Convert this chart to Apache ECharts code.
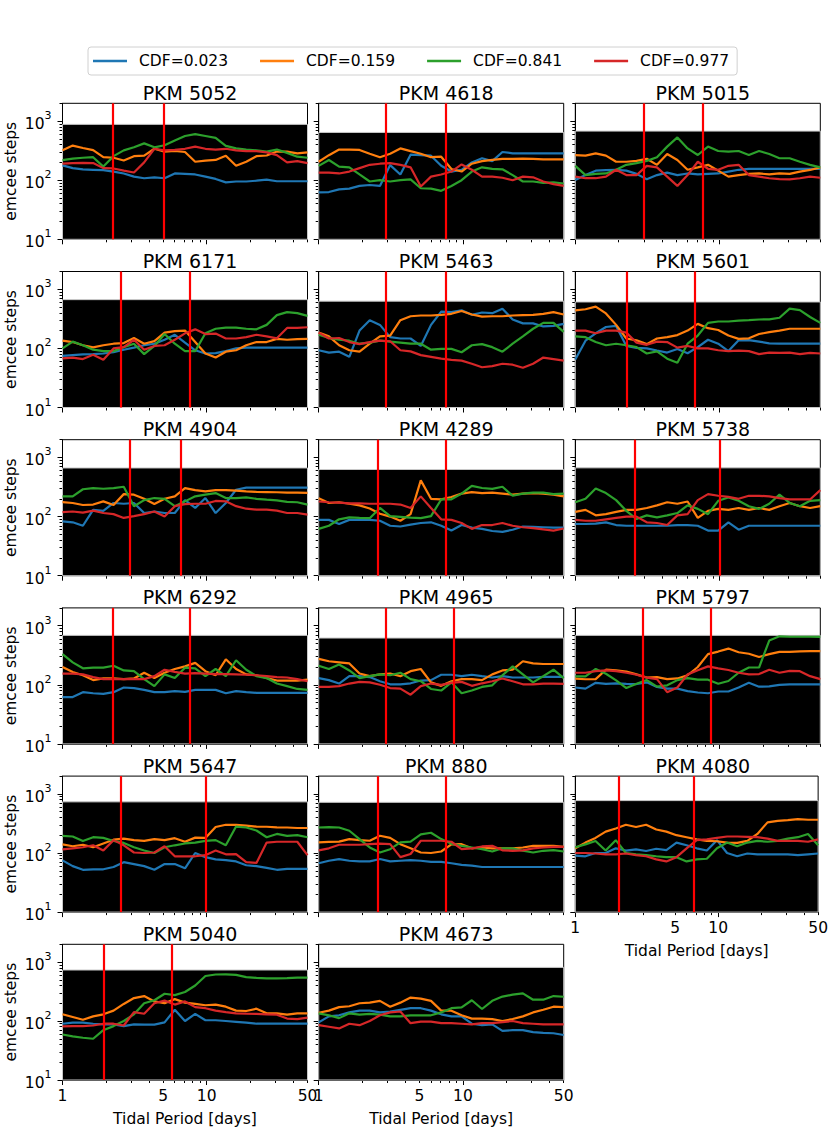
<!DOCTYPE html>
<html>
<head>
<meta charset="utf-8">
<script src="https://cdn.jsdelivr.net/npm/echarts@6/dist/echarts.min.js"></script>
<style>
  html, body { margin: 0; background: #fff; }
  #chart { width: 831px; height: 1128px; }
</style>
</head>
<body>
<div id="chart"></div>
<script>
// panel names, in reading order
const names = ['PKM 5052','PKM 4618','PKM 5015','PKM 6171','PKM 5463','PKM 5601','PKM 4904','PKM 4289','PKM 5738',
  'PKM 6292','PKM 4965','PKM 5797','PKM 5647','PKM 880','PKM 4080','PKM 5040','PKM 4673'];

// tidal periods [days] the steps were sampled at
const periods = [1.000,1.177,1.385,1.631,1.919,2.259,2.659,3.130,3.684,4.336,5.104,6.008,7.071,
  8.323,9.796,11.53,13.57,15.98,18.80,22.13,26.05,30.66,36.09,42.48,50.00];

// emcee steps, one row per panel
const cdf023 = [
  [178,160,152,150,148,140,130,115,108,112,108,130,128,125,115,105,92,95,95,98,102,96,96,96,96],
  [62,63,70,72,80,83,80,180,125,270,265,260,175,140,150,200,235,210,300,285,285,285,285,285,285],
  [101,122,145,148,150,145,128,104,122,134,122,130,125,128,130,140,150,156,156,156,156,156,156,156,156],
  [75,77,79,80,82,86,95,103,113,120,140,170,125,93,82,83,90,100,103,103,103,103,103,103,103],
  [93,85,88,72,200,300,250,155,147,147,110,250,420,410,440,370,405,395,470,308,265,265,235,240,260],
  [65,135,180,230,240,110,102,100,92,85,98,83,105,140,120,90,137,138,130,122,120,120,120,120,120],
  [83,80,70,130,125,170,165,170,115,122,115,115,190,140,206,115,170,285,310,310,310,310,310,310,310],
  [88,88,75,88,88,88,85,70,68,73,78,80,70,58,72,65,62,57,55,60,68,67,66,65,65],
  [75,75,76,80,72,70,70,70,70,70,72,72,70,58,58,80,60,70,70,70,70,70,70,70,70],
  [62,62,75,72,70,75,90,88,82,75,75,78,76,82,82,82,72,78,75,73,73,73,73,73,73],
  [130,120,105,140,140,135,115,102,102,106,118,120,148,148,140,148,140,133,140,133,133,133,136,136,136],
  [90,86,108,104,106,104,103,110,92,86,86,78,74,72,77,77,90,108,93,94,100,102,102,102,102],
  [75,60,52,53,53,58,70,65,60,52,65,65,55,100,85,78,76,72,62,60,56,52,54,54,54],
  [67,74,79,74,72,72,79,72,74,76,74,71,71,67,63,61,58,58,58,58,58,58,58,58,58],
  [90,88,100,100,120,110,115,108,118,112,150,135,120,110,165,100,88,98,95,95,95,95,92,95,98],
  [90,94,94,90,88,88,82,88,87,87,95,155,100,132,103,103,100,97,94,90,90,90,90,90,90],
  [95,120,125,140,150,150,140,145,155,165,165,150,130,120,120,90,85,88,68,70,70,65,63,62,58]
];
const cdf159 = [
  [322,385,350,322,245,240,215,255,260,340,305,312,300,205,215,220,260,175,205,255,262,305,305,285,295],
  [205,265,330,330,325,280,245,280,345,310,280,245,250,155,140,190,210,220,230,230,232,230,225,225,225],
  [265,260,285,260,205,205,212,230,182,278,220,150,165,182,145,115,122,128,130,125,130,128,140,149,165],
  [135,128,113,104,113,120,123,150,120,133,185,196,200,128,82,70,88,93,113,128,128,145,140,143,145],
  [185,160,113,93,88,120,160,165,300,350,360,360,370,385,430,375,345,350,350,360,365,370,385,410,375],
  [440,460,510,390,250,147,137,118,147,155,168,200,260,220,205,165,145,148,175,188,200,215,215,215,215],
  [176,170,157,160,181,157,240,235,200,163,200,220,304,280,267,280,280,275,267,262,260,258,255,255,252],
  [205,170,175,165,155,137,112,100,85,110,410,200,196,215,245,260,250,255,245,235,245,250,245,235,220],
  [120,130,105,110,120,130,130,140,155,175,165,180,95,125,135,130,140,130,140,130,150,170,150,140,150],
  [200,165,145,120,128,128,125,128,160,130,160,185,205,235,170,145,270,185,150,145,130,118,118,118,122],
  [275,250,240,230,155,140,150,155,140,170,185,110,96,115,125,125,120,150,175,180,250,230,225,225,225],
  [127,124,125,180,176,168,150,133,135,125,128,145,200,330,365,410,355,335,295,330,360,360,368,372,372],
  [140,130,138,125,145,168,175,165,160,172,165,178,155,182,180,275,300,300,290,280,278,272,270,265,265],
  [151,154,156,172,165,161,196,180,141,120,102,100,106,140,141,120,124,120,120,120,124,132,132,132,127],
  [120,150,180,230,260,300,275,300,250,230,200,185,170,160,158,150,148,160,210,330,350,360,375,365,365],
  [130,117,105,120,130,150,195,245,265,215,200,235,205,195,185,190,175,150,148,162,135,135,128,135,135],
  [138,150,172,178,200,205,220,175,205,250,240,220,150,150,125,110,110,108,100,108,120,140,155,175,172]
];
const cdf841 = [
  [218,232,240,245,170,255,320,360,420,360,390,470,560,600,560,520,380,345,330,320,305,330,290,250,240],
  [175,220,170,165,125,95,100,95,100,103,73,72,66,80,100,140,165,155,153,122,95,95,90,92,88],
  [175,122,128,130,150,182,195,212,245,370,530,345,267,370,312,305,312,267,312,278,235,235,205,182,165],
  [100,130,113,95,90,90,105,120,80,110,175,120,90,90,180,215,225,225,215,210,250,365,410,395,355],
  [170,150,140,135,120,125,135,130,125,120,120,95,98,98,86,113,118,105,88,120,160,215,270,270,190],
  [160,155,128,113,120,113,105,82,89,67,57,120,165,270,285,285,295,300,308,310,330,470,445,340,270],
  [220,220,290,304,296,304,320,150,190,206,200,150,181,220,235,250,206,206,212,200,193,188,178,175,159],
  [62,70,90,97,95,94,140,102,99,96,94,102,195,196,245,330,305,295,320,225,245,255,255,240,245],
  [175,200,300,250,190,125,91,105,97,105,115,155,135,110,185,210,185,150,135,165,235,170,150,185,190],
  [330,240,190,195,195,210,175,170,125,95,150,130,195,190,140,185,140,260,180,140,130,105,95,85,82],
  [210,185,220,175,130,140,150,145,160,125,115,85,80,110,72,80,92,98,145,205,150,110,140,180,130],
  [139,139,185,154,119,88,104,120,93,98,120,130,122,122,104,116,160,196,196,560,660,650,650,650,645],
  [195,190,160,185,180,160,148,125,110,100,125,135,145,150,160,165,135,280,270,240,185,210,195,200,185],
  [270,275,270,238,172,124,102,116,151,156,206,220,172,144,132,124,116,106,120,120,109,102,109,112,106],
  [125,140,160,110,165,100,95,92,88,85,85,72,78,80,120,150,130,150,160,155,160,175,185,210,135],
  [59,55,52,50,70,82,100,130,200,225,290,275,310,400,580,615,620,605,555,540,530,530,535,545,545],
  [135,125,112,135,128,132,128,120,120,125,125,125,140,165,170,225,160,220,260,280,295,230,230,265,258]
];
const cdf977 = [
  [190,195,197,195,160,158,145,135,200,340,320,325,340,370,340,330,340,320,310,310,295,265,200,210,195],
  [134,134,130,140,160,182,190,195,182,165,78,115,125,140,185,150,115,115,110,100,115,112,95,86,80],
  [115,108,108,115,150,122,122,175,165,115,80,122,205,156,150,175,182,122,115,108,104,103,108,115,110],
  [68,70,66,78,64,100,105,140,95,110,113,140,180,210,175,178,147,147,155,170,160,148,222,222,228],
  [185,147,150,128,118,128,135,132,93,89,77,72,67,64,62,55,48,50,55,53,47,55,70,66,62],
  [200,200,180,200,200,185,125,115,130,128,103,110,100,100,93,90,92,90,80,85,84,85,80,84,82],
  [119,122,117,126,115,110,95,102,110,122,100,150,163,165,165,184,181,150,136,131,131,126,115,115,108],
  [180,175,172,168,168,165,165,165,160,140,220,140,90,88,78,62,72,72,78,70,66,64,61,58,63],
  [88,85,85,90,95,100,100,80,78,72,105,110,190,240,225,215,200,225,225,220,205,195,195,195,280],
  [155,155,150,135,125,125,125,125,125,140,180,165,155,158,155,152,152,150,148,145,140,135,133,125,115],
  [92,92,95,105,112,110,100,88,86,68,95,105,100,108,112,96,106,115,128,115,102,102,105,105,104],
  [160,160,170,176,170,160,148,132,125,75,90,150,176,205,190,178,160,150,152,180,160,172,170,140,125],
  [115,120,125,135,110,165,135,102,100,102,130,88,88,88,92,110,95,96,70,68,150,155,155,155,92],
  [111,120,138,138,138,141,144,141,85,96,161,161,161,155,116,120,129,132,111,109,111,120,124,127,127],
  [100,100,98,95,95,98,92,88,78,72,85,120,165,170,180,190,190,188,185,175,160,160,160,155,170],
  [81,82,82,84,90,90,84,142,133,200,222,190,215,172,165,150,142,135,133,132,130,128,110,108,114],
  [85,80,75,90,85,100,125,140,145,92,98,98,92,92,90,88,92,92,96,100,92,90,88,88,88]
];

// top of the black band per panel, and red marker periods
const blackTop = [880,643,677,668,630,610,665,626,668,686,618,686,733,720,770,733,812];
const redLines = [[2.23,5.0],[2.93,7.56],[2.96,7.65],[2.54,7.58],[2.93,7.56],[2.29,6.72],[2.91,6.56],[2.56,7.56],
  [2.6,10.0],[2.22,7.58],[2.93,8.66],[2.93,8.7],[2.54,9.85],[2.58,7.56],[2.0,6.72],[1.94,5.68],[]];

const cdfNames = ['CDF=0.023','CDF=0.159','CDF=0.841','CDF=0.977'];
const xMajor = [1,10], xMinor = [2,3,4,5,6,7,8,9,20,30,40,50], xLabels = [1,5,10,50];
const yMajor = [10,100,1000], yMinor = [20,30,40,50,60,70,80,90,200,300,400,500,600,700,800,900,2000];

const colors = ['#1f77b4','#ff7f0e','#2ca02c','#d62728'];
const lines = [cdf023, cdf159, cdf841, cdf977];
const font = 'DejaVu Sans';
const colLeft = [62.5,318.7,575.3], rowTop = [103.3,271.5,439.7,607.9,776.1,944.3];
const W = 245, H = 136;
const xLabelled = [14,15,16];

const grid = [], xAxis = [], yAxis = [], series = [], title = [];
const txt = { color:'#000', fontFamily:font, fontSize:15.5 };

names.forEach((nm, i) => {
  const col = i % 3, row = Math.floor(i / 3);
  const showX = xLabelled.includes(i), showY = col === 0;
  grid.push({ left:colLeft[col], top:rowTop[row], width:W, height:H,
    show:true, backgroundColor:'#fff', borderColor:'#000', borderWidth:1 });
  title.push({ text:nm, left:colLeft[col] + W/2, top:rowTop[row] - 25, textAlign:'center',
    textStyle:{ color:'#000', fontFamily:font, fontSize:19, fontWeight:'normal' } });

  xAxis.push({ type:'log', logBase:10, gridIndex:i, min:1, max:50, position:'bottom',
    axisLine:{ show:true, lineStyle:{ color:'#000', width:1 } },
    axisTick:{ show:true, customValues:xMajor, length:5, lineStyle:{ color:'#000', width:1 } },
    axisLabel:{ show:showX, customValues:xLabels, margin:8, ...txt, formatter:v => String(v) },
    splitLine:{ show:false },
    name: showX ? 'Tidal Period [days]' : '', nameLocation:'middle', nameGap:31, nameTextStyle:txt });
  yAxis.push({ type:'log', logBase:10, gridIndex:i, min:10, max:2000,
    axisLine:{ show:true, lineStyle:{ color:'#000', width:1 } },
    axisTick:{ show:true, customValues:yMajor, length:5, lineStyle:{ color:'#000', width:1 } },
    axisLabel:{ show:showY, customValues:yMajor, margin:11, color:'#000', fontFamily:font,
      formatter:v => '{b|10}{s|' + Math.round(Math.log10(v)) + '}',
      rich:{ b:{ fontSize:15.5, fontFamily:font, color:'#000', verticalAlign:'bottom', lineHeight:22 },
             s:{ fontSize:11, fontFamily:font, color:'#000', verticalAlign:'top', lineHeight:22 } } },
    splitLine:{ show:false },
    name: showY ? 'emcee steps' : '', nameLocation:'middle', nameGap:44, nameTextStyle:txt });

  // black band + red markers
  series.push({ type:'line', xAxisIndex:i, yAxisIndex:i, data:[], silent:true,
    markArea:{ silent:true, itemStyle:{ color:'#000', borderColor:'#c8c8c8', borderWidth:1 },
      data:[[{ yAxis:10 }, { yAxis:blackTop[i] }]] },
    markLine:{ silent:true, symbol:'none', label:{ show:false },
      lineStyle:{ color:'#ff0000', width:2.2, type:'solid' },
      data:redLines[i].map(p => ({ xAxis:p })) } });

  lines.forEach((arr, k) => {
    series.push({ type:'line', name:cdfNames[k], xAxisIndex:i, yAxisIndex:i,
      data:periods.map((p, j) => [p, arr[i][j]]), showSymbol:false, symbol:'none',
      lineStyle:{ color:colors[k], width:2.2 }, itemStyle:{ color:colors[k] }, z:3 });
  });
});

// second set of axes, minor ticks only
names.forEach((nm, i) => {
  xAxis.push({ type:'log', logBase:10, gridIndex:i, min:1, max:50, position:'bottom', offset:0,
    axisLine:{ show:false }, axisLabel:{ show:false }, splitLine:{ show:false },
    axisTick:{ show:true, customValues:xMinor, length:3, lineStyle:{ color:'#000', width:1 } } });
  yAxis.push({ type:'log', logBase:10, gridIndex:i, min:10, max:2000, position:'left', offset:0,
    axisLine:{ show:false }, axisLabel:{ show:false }, splitLine:{ show:false },
    axisTick:{ show:true, customValues:yMinor, length:3, lineStyle:{ color:'#000', width:1 } } });
});

const chart = echarts.init(document.getElementById('chart'), null, { renderer:'svg' });
chart.setOption({
  animation:false,
  backgroundColor:'#fff',
  title,
  legend:{ data:cdfNames, left:88, top:47, icon:'rect', itemWidth:34, itemHeight:2.5, itemGap:32,
    padding:[6,8,6,5], borderColor:'#d0d0d0', borderWidth:1, borderRadius:3,
    textStyle:{ ...txt, padding:[0,0,0,7] } },
  grid, xAxis, yAxis, series
});
</script>
</body>
</html>
